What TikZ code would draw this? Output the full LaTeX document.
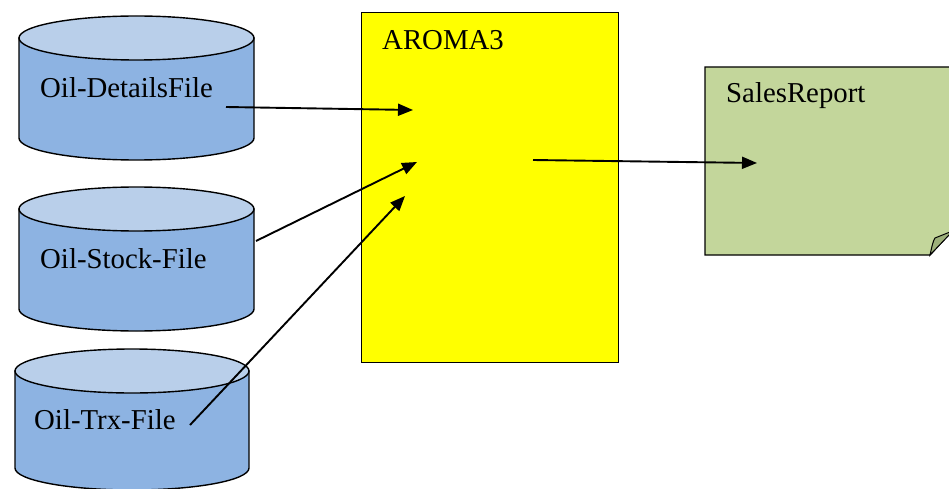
\documentclass[tikz,border=0pt]{standalone}
\usepackage{fontspec}
\setmainfont{Liberation Serif}
\usetikzlibrary{arrows.meta}
\definecolor{cyltop}{HTML}{B9CFEA}
\definecolor{cylbody}{HTML}{8DB3E2}
\definecolor{procy}{HTML}{FFFF00}
\definecolor{repg}{HTML}{C3D69B}
\definecolor{foldg}{HTML}{9DB07A}
\tikzset{
  shapeline/.style={draw=black, line width=1.4pt},
  lbl/.style={font=\fontsize{28.8}{30}\selectfont, inner sep=0pt, anchor=west},
  flow/.style={line width=1.9pt, -{Triangle[length=15pt,width=12pt]}},
}
\newcommand{\mycyl}[5]{% left x, right x, top centre y, bottom centre y, ry
  \path[shapeline, fill=cylbody] (#1,#3) -- (#1,#4)
    arc[start angle=180, end angle=0, x radius={(#2-#1)/2}, y radius=#5] -- (#2,#3) -- cycle;
  \path[shapeline, fill=cyltop] ({(#1+#2)/2},#3) ellipse[x radius={(#2-#1)/2}, y radius=#5];
}
\begin{document}
\begin{tikzpicture}[x=1pt,y=-1pt]
\useasboundingbox (0,0) rectangle (949,489);
\clip (0,0) rectangle (949,489);
% cylinders
\mycyl{19}{254}{38}{138}{22}
\mycyl{19}{254}{209}{309}{22}
\mycyl{15}{249}{371}{468}{22}
\node[lbl] (det) at (40,88) {Oil-DetailsFile};
\node[lbl] (stk) at (40,259) {Oil-Stock-File};
\node[lbl] (trx) at (34,420) {Oil-Trx-File};
% process box
\node[shapeline, fill=procy, minimum width=257pt, minimum height=350pt, inner sep=0pt, anchor=north west] (aroma) at (361,12) {};
\node[lbl] (aromat) at (382,40) {AROMA3};
% report
\path[shapeline, fill=repg] (705,67) -- (950,67) -- (950,233) -- (930,255) -- (705,255) -- cycle;
\path[draw=black, line width=1pt, fill=foldg] (930,255) .. controls (932,246) and (933,241) .. (935,238) -- (950,232) -- (950,234) -- cycle;
\node[lbl] (rept) at (726,96) {SalesReport};
% connector end points
\coordinate (s1) at (226,107);
\coordinate (e1) at (413,110);
\coordinate (s2) at (256,241);
\coordinate (e2) at (417,162);
\coordinate (s3) at (190,425);
\coordinate (e3) at (405,196);
\coordinate (s4) at (533,160);
\coordinate (e4) at (757,163);
\draw[flow] (s1) -- (e1);
\draw[flow] (s2) -- (e2);
\draw[flow] (s3) -- (e3);
\draw[flow] (s4) -- (e4);
\end{tikzpicture}
\end{document}
